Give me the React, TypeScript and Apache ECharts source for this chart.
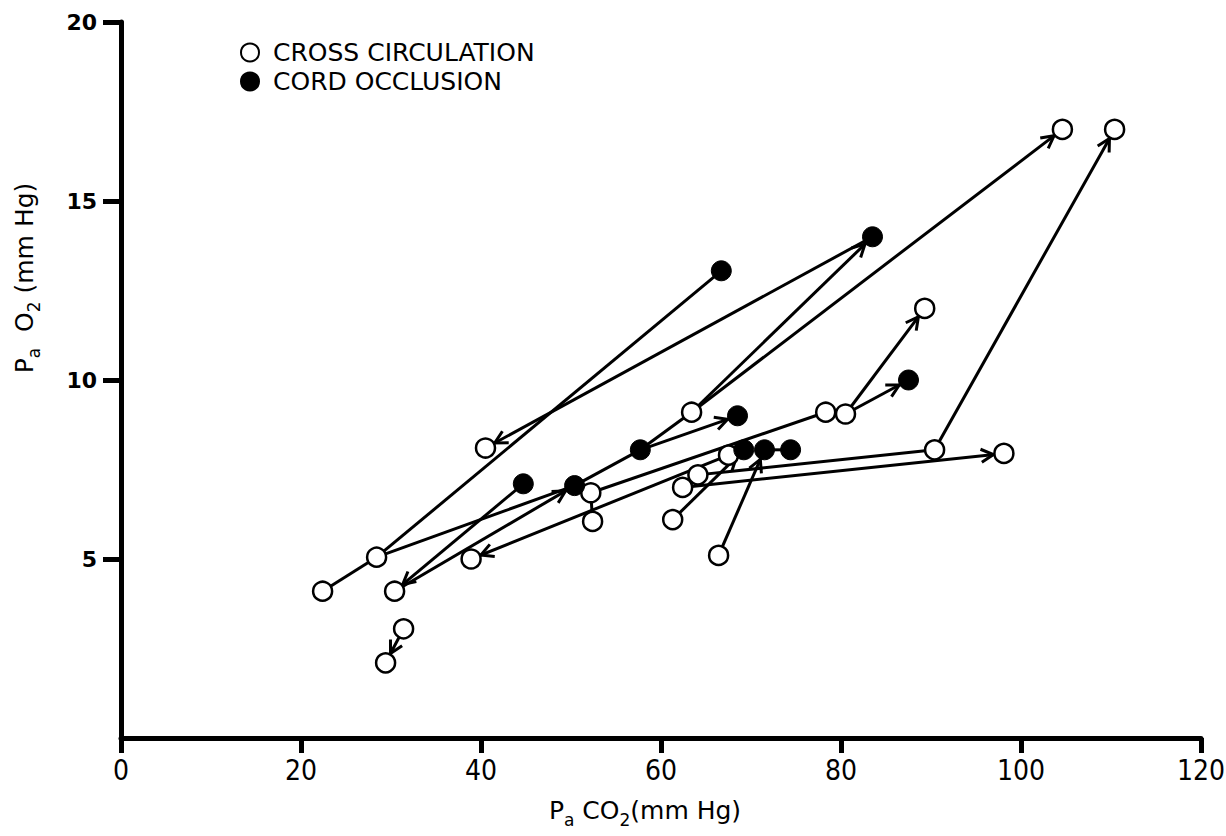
import React, { useEffect, useRef } from "react";
import * as echarts from "echarts";

// Open circles: cross circulation [PaCO2, PaO2]
const crossCirculation: [number, number][] = [
  [22.4, 4.1], // o0
  [28.4, 5.05], // o1
  [30.4, 4.1], // o2
  [31.4, 3.05], // o3
  [29.4, 2.1], // o4
  [40.5, 8.1], // o5
  [38.9, 5.0], // o6
  [52.2, 6.85], // o7
  [52.4, 6.05], // o8
  [63.4, 9.1], // o9
  [61.3, 6.1], // o10
  [62.4, 7.0], // o11
  [64.1, 7.35], // o12
  [67.5, 7.9], // o13
  [66.4, 5.1], // o14
  [78.3, 9.1], // o15
  [80.5, 9.05], // o16
  [89.3, 12.0], // o17
  [90.4, 8.05], // o18
  [98.1, 7.95], // o19
  [104.6, 17.0], // o20
  [110.4, 17.0], // o21
];

// Filled circles: cord occlusion
const cordOcclusion: [number, number][] = [
  [66.7, 13.05], // f0
  [83.5, 14.0], // f1
  [44.7, 7.1], // f2
  [50.4, 7.05], // f3
  [57.7, 8.05], // f4
  [68.5, 9.0], // f5
  [69.2, 8.05], // f6
  [71.5, 8.05], // f7
  [74.4, 8.05], // f8
  [87.5, 10.0], // f9
];

// connections: from, to, arrow at "to" (1) or plain line (0)
const links: [string, string, number][] = [
  ["o0", "o1", 0],
  ["o1", "f0", 0],
  ["o1", "f3", 0],
  ["f3", "f4", 0],
  ["f4", "o9", 0],
  ["f4", "f5", 1],
  ["o9", "f1", 1],
  ["o9", "o20", 1],
  ["f1", "o5", 1],
  ["f2", "o2", 1],
  ["o2", "f3", 1],
  ["o13", "o6", 1],
  ["o7", "o8", 0],
  ["o7", "o15", 0],
  ["o16", "f9", 1],
  ["o16", "o17", 1],
  ["o10", "f6", 1],
  ["o14", "f7", 1],
  ["f7", "f8", 0],
  ["o12", "o18", 0],
  ["o11", "o19", 1],
  ["o18", "o21", 1],
  ["o3", "o4", 1],
];

const xTicks = [0, 20, 40, 60, 80, 100, 120];
const yTicks = [5, 10, 15, 20];
const legendNames = ["CROSS CIRCULATION", "CORD OCCLUSION"];

function pointOf(id: string): [number, number] {
  const idx = parseInt(id.slice(1), 10);
  return id[0] === "o" ? crossCirculation[idx] : cordOcclusion[idx];
}

const FONT = "'DejaVu Sans', 'Noto Sans', sans-serif";
const NARROW = "'Liberation Sans Narrow', 'DejaVu Sans Condensed', 'Liberation Sans', sans-serif";

export default function App() {
  const ref = useRef<HTMLDivElement>(null);
  useEffect(() => {
    document.body.style.margin = "0";
    if (!ref.current) return;
    const chart = echarts.init(ref.current, null, { renderer: "svg" });
    const linkData = links.map(([a, b, arr]) => {
      const p = pointOf(a);
      const q = pointOf(b);
      return [p[0], p[1], q[0], q[1], arr];
    });
    const R = 10.5;
    const richName = {
      m: { fontSize: 25, fontFamily: FONT, fill: "#000", lineHeight: 36 },
      s: { fontSize: 17, fontFamily: FONT, fill: "#000", verticalAlign: "bottom" },
    };
    chart.setOption({
      animation: false,
      backgroundColor: "#fff",
      grid: { left: 121, right: 25, top: 22, bottom: 98, outerBoundsMode: "none" },
      legend: {
        data: legendNames,
        orient: "vertical",
        left: 240,
        top: 40,
        padding: 0,
        itemWidth: 18,
        itemHeight: 18,
        itemGap: 4,
        textStyle: { fontSize: 25, fontFamily: FONT, color: "#000", lineHeight: 25, padding: [0, 0, 0, 9] },
      },
      xAxis: {
        type: "value",
        min: 0,
        max: 120,
        interval: 20,
        splitLine: { show: false },
        axisLine: { onZero: false, lineStyle: { color: "#000", width: 5 } },
        axisTick: { show: true, length: 15, customValues: xTicks, lineStyle: { color: "#000", width: 5 } },
        axisLabel: { color: "#000", fontSize: 28, fontFamily: NARROW, margin: 18, customValues: xTicks },
      },
      yAxis: {
        type: "value",
        min: 0,
        max: 20,
        interval: 5,
        splitLine: { show: false },
        axisLine: { onZero: false, lineStyle: { color: "#000", width: 5 } },
        axisTick: { show: true, length: 18, customValues: yTicks, lineStyle: { color: "#000", width: 5 } },
        axisLabel: { color: "#000", fontSize: 22, fontWeight: "bold", fontFamily: FONT, margin: 24, customValues: yTicks },
      },
      graphic: [
        {
          type: "text",
          x: 645,
          y: 810,
          style: {
            text: "{m|P}{s|a}{m| CO}{s|2}{m|(mm Hg)}",
            textAlign: "center",
            textVerticalAlign: "middle",
            rich: richName,
          },
        },
        {
          type: "text",
          x: 24,
          y: 278,
          rotation: Math.PI / 2,
          style: {
            text: "{m|P}{s|a}{m|  O}{s|2}{m| (mm Hg)}",
            textAlign: "center",
            textVerticalAlign: "middle",
            rich: richName,
          },
        },
      ],
      series: [
        {
          type: "custom",
          name: "links",
          z: 1,
          clip: false,
          encode: { x: [0, 2], y: [1, 3] },
          data: linkData,
          renderItem: (params: any, api: any) => {
            const p1 = api.coord([api.value(0), api.value(1)]);
            const p2 = api.coord([api.value(2), api.value(3)]);
            const arrow = api.value(4);
            const dx = p2[0] - p1[0];
            const dy = p2[1] - p1[1];
            const len = Math.hypot(dx, dy) || 1;
            const ux = dx / len;
            const uy = dy / len;
            const children: any[] = [
              {
                type: "line",
                shape: { x1: p1[0], y1: p1[1], x2: p2[0], y2: p2[1] },
                style: { stroke: "#000", lineWidth: 3 },
              },
            ];
            if (arrow) {
              const tx = p2[0] - ux * R;
              const ty = p2[1] - uy * R;
              const L = 14;
              const a = (28 * Math.PI) / 180;
              const w = (s: number) => {
                const c = Math.cos(s * a);
                const si = Math.sin(s * a);
                const rx = ux * c - uy * si;
                const ry = ux * si + uy * c;
                return [tx - rx * L, ty - ry * L];
              };
              children.push({
                type: "polyline",
                shape: { points: [w(1), [tx, ty], w(-1)] },
                style: { stroke: "#000", lineWidth: 3, fill: "none" },
              });
            }
            return { type: "group", children };
          },
        },
        {
          type: "scatter",
          name: legendNames[0],
          z: 3,
          symbol: "circle",
          symbolSize: 19,
          itemStyle: { color: "#fff", borderColor: "#000", borderWidth: 2.5, opacity: 1 },
          data: crossCirculation,
        },
        {
          type: "scatter",
          name: legendNames[1],
          z: 3,
          symbol: "circle",
          symbolSize: 20,
          itemStyle: { color: "#000", borderColor: "#000", borderWidth: 1, opacity: 1 },
          data: cordOcclusion,
        },
      ],
    });
    return () => chart.dispose();
  }, []);
  return <div ref={ref} style={{ width: 1226, height: 836 }} />;
}
